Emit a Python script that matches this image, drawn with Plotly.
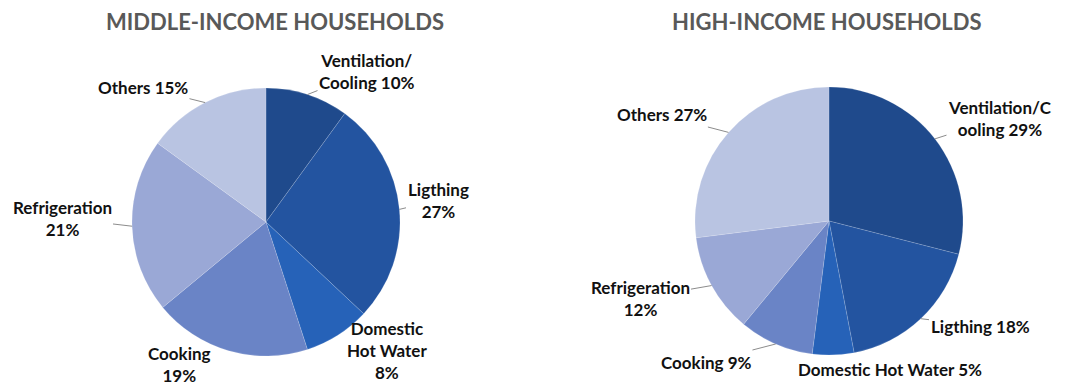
import math
import plotly.graph_objects as go

W, H = 1067, 387

categories = ["Ventilation/Cooling", "Lighting", "Domestic Hot Water",
              "Cooking", "Refrigeration", "Others"]
middle_income = [10, 27, 8, 19, 21, 15]
high_income = [29, 18, 5, 9, 12, 27]

middle_labels = ["Ventilation/<br>Cooling 10%", "Ligthing<br>27%", "Domestic<br>Hot Water<br>8%",
                 "Cooking<br>19%", "Refrigeration<br>21%", "Others 15%"]
high_labels = ["Ventilation/C<br>ooling 29%", "Ligthing 18%", "Domestic Hot Water 5%",
               "Cooking 9%", "Refrigeration<br>12%", "Others 27%"]

colors = ["#1f4a8c", "#2354a0", "#2662b8", "#6a84c6", "#9aa8d6", "#b9c4e2"]

# pie geometry in pixels: centre x, centre y (from top), radius
PIES = [
    dict(cx=266, cy=222, r=134, title="MIDDLE-INCOME HOUSEHOLDS", tx=275),
    dict(cx=829, cy=221, r=134, title="HIGH-INCOME HOUSEHOLDS", tx=827),
]

# label centres in pixels and whether a leader line is drawn
MID_POS = [(367, 71, True), (438, 200, True), (387, 350, False),
           (179, 364, False), (62, 218, True), (143, 87, True)]
HIGH_POS = [(1000, 118, True), (980, 326, True), (890, 369, False),
            (706, 362, True), (640, 298, True), (662, 115, True)]

FONT = "Lato"

fig = go.Figure()
annotations = []

for pie, values, labels, positions in [
    (PIES[0], middle_income, middle_labels, MID_POS),
    (PIES[1], high_income, high_labels, HIGH_POS),
]:
    cx, cy, r = pie["cx"], pie["cy"], pie["r"]
    fig.add_trace(go.Pie(
        labels=categories, values=values, sort=False, direction="clockwise",
        rotation=0, textinfo="none", hoverinfo="label+percent",
        marker=dict(colors=colors, line=dict(color="rgba(255,255,255,0.3)", width=0.5)),
        domain=dict(x=[(cx - r) / W, (cx + r) / W],
                    y=[(H - cy - r) / H, (H - cy + r) / H]),
        showlegend=False,
    ))
    annotations.append(dict(
        text=f"<b>{pie['title']}</b>", x=pie["tx"] / W, y=1 - 22 / H,
        xref="paper", yref="paper", xanchor="center", yanchor="middle",
        showarrow=False, font=dict(family=FONT, size=22, color="#595959"),
    ))
    total = sum(values)
    cum = 0
    for v, lab, (lx, ly, leader) in zip(values, labels, positions):
        mid = (cum + v / 2) / total * 2 * math.pi
        cum += v
        hx = cx + r * math.sin(mid)
        hy = cy - r * math.cos(mid)
        ann = dict(
            text=f"<b>{lab}</b>", xref="paper", yref="paper",
            font=dict(family=FONT, size=17, color="#111111"), align="center",
        )
        if leader:
            ann.update(x=hx / W, y=1 - hy / H, showarrow=True, arrowhead=0,
                       arrowwidth=1, arrowcolor="#8c8c8c",
                       ax=lx - hx, ay=ly - hy)
        else:
            ann.update(x=lx / W, y=1 - ly / H, showarrow=False,
                       xanchor="center", yanchor="middle")
        annotations.append(ann)

fig.update_layout(
    width=W, height=H, margin=dict(l=0, r=0, t=0, b=0),
    paper_bgcolor="white", plot_bgcolor="white",
    annotations=annotations,
)

fig.write_html("out.html")
